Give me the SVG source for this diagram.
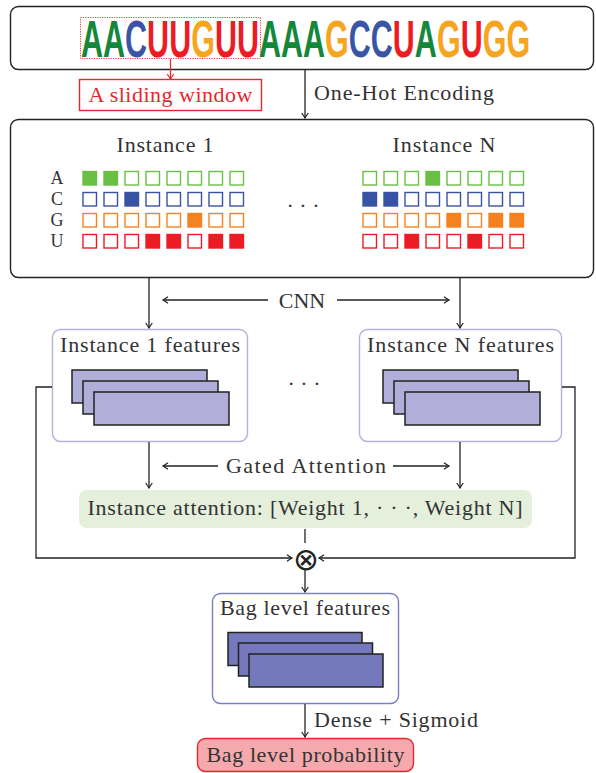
<svg xmlns="http://www.w3.org/2000/svg" width="596" height="773" viewBox="0 0 596 773">
<style>
.t{font-family:"Liberation Serif","Times New Roman",serif;font-size:22px;fill:#333}
.tr{font-family:"Liberation Serif","Times New Roman",serif;font-size:22px;fill:#e8262d}
.lbl{font-family:"Liberation Serif","Times New Roman",serif;font-size:18px;fill:#333}
.seq{font-family:"Liberation Sans",Arial,sans-serif;font-weight:bold;font-size:51px}
.sA{fill:#14873a}.sC{fill:#3a55a6}.sG{fill:#f7a51e}.sU{fill:#ed1c24}
.box{fill:#fff;stroke:#222;stroke-width:1.4}
.ln{fill:none;stroke:#222;stroke-width:1.3}
.ga{stroke:#6abf45;fill:#fff;stroke-width:1.4}.gA{fill:#6abf45;stroke:#6abf45;stroke-width:1.4}
.ca{stroke:#3953a4;fill:#fff;stroke-width:1.4}.cA{fill:#3953a4;stroke:#3953a4;stroke-width:1.4}
.oa{stroke:#f58220;fill:#fff;stroke-width:1.4}.oA{fill:#f58220;stroke:#f58220;stroke-width:1.4}
.ra{stroke:#ed1c24;fill:#fff;stroke-width:1.4}.rA{fill:#ed1c24;stroke:#ed1c24;stroke-width:1.4}
.fl{fill:#b1afd9;stroke:#222;stroke-width:1.5}
.fb{fill:#7479bb;stroke:#222;stroke-width:1.5}
</style>
<defs>
<marker id="arr" viewBox="-6 -4 7 8" refX="0" refY="0" markerWidth="7" markerHeight="8" orient="auto-start-reverse" markerUnits="userSpaceOnUse">
<path d="M-5,-3.3 Q-1.5,-0.8 0,0 Q-1.5,0.8 -5,3.3" fill="none" stroke="#222" stroke-width="1.2"/>
</marker>
<marker id="arrR" viewBox="-6 -4 7 8" refX="0" refY="0" markerWidth="7" markerHeight="8" orient="auto" markerUnits="userSpaceOnUse">
<path d="M-5,-3.3 Q-1.5,-0.8 0,0 Q-1.5,0.8 -5,3.3" fill="none" stroke="#e8262d" stroke-width="1.2"/>
</marker>
</defs>

<g id="sequence">
<rect class="box" x="10.5" y="6.5" width="583" height="63" rx="8"/>
<g transform="translate(81,57) scale(0.598,1)">
<text class="seq" x="0" y="0" textLength="751"><tspan class="sA">AA</tspan><tspan class="sC">C</tspan><tspan class="sU">UU</tspan><tspan class="sG">G</tspan><tspan class="sU">UU</tspan><tspan class="sA">AAA</tspan><tspan class="sG">G</tspan><tspan class="sC">CC</tspan><tspan class="sU">U</tspan><tspan class="sA">A</tspan><tspan class="sG">G</tspan><tspan class="sU">U</tspan><tspan class="sG">GG</tspan></text>
</g>
<rect x="80.5" y="17.5" width="180" height="41" fill="none" stroke="#e8262d" stroke-width="0.9" stroke-dasharray="1.2,1.2"/>
</g>

<g id="sliding-window">
<rect x="79.5" y="79.5" width="182" height="31" fill="#fff" stroke="#e8262d" stroke-width="1.4"/>
<text class="tr" x="170.5" y="102" text-anchor="middle" textLength="164">A sliding window</text>
</g>

<g id="one-hot-label">
<text class="t" x="314" y="100" textLength="180">One-Hot Encoding</text>
</g>

<g id="instances">
<rect class="box" x="10.5" y="119.5" width="583" height="158" rx="8"/>
<text class="t" x="165" y="152" text-anchor="middle" textLength="97">Instance 1</text>
<text class="t" x="444" y="152" text-anchor="middle" textLength="103">Instance N</text>
<text class="lbl" x="57" y="184" text-anchor="middle">A</text>
<text class="lbl" x="57" y="205" text-anchor="middle">C</text>
<text class="lbl" x="57" y="226" text-anchor="middle">G</text>
<text class="lbl" x="57" y="247" text-anchor="middle">U</text>
<text class="t" x="303" y="213" text-anchor="middle">· · ·</text>
<g id="grid1">
<rect class="gA" x="83" y="171.5" width="13.5" height="13.5"/><rect class="gA" x="104" y="171.5" width="13.5" height="13.5"/><rect class="ga" x="125" y="171.5" width="13.5" height="13.5"/><rect class="ga" x="146" y="171.5" width="13.5" height="13.5"/><rect class="ga" x="167" y="171.5" width="13.5" height="13.5"/><rect class="ga" x="188" y="171.5" width="13.5" height="13.5"/><rect class="ga" x="209" y="171.5" width="13.5" height="13.5"/><rect class="ga" x="230" y="171.5" width="13.5" height="13.5"/>
<rect class="ca" x="83" y="192.5" width="13.5" height="13.5"/><rect class="ca" x="104" y="192.5" width="13.5" height="13.5"/><rect class="cA" x="125" y="192.5" width="13.5" height="13.5"/><rect class="ca" x="146" y="192.5" width="13.5" height="13.5"/><rect class="ca" x="167" y="192.5" width="13.5" height="13.5"/><rect class="ca" x="188" y="192.5" width="13.5" height="13.5"/><rect class="ca" x="209" y="192.5" width="13.5" height="13.5"/><rect class="ca" x="230" y="192.5" width="13.5" height="13.5"/>
<rect class="oa" x="83" y="213.5" width="13.5" height="13.5"/><rect class="oa" x="104" y="213.5" width="13.5" height="13.5"/><rect class="oa" x="125" y="213.5" width="13.5" height="13.5"/><rect class="oa" x="146" y="213.5" width="13.5" height="13.5"/><rect class="oa" x="167" y="213.5" width="13.5" height="13.5"/><rect class="oA" x="188" y="213.5" width="13.5" height="13.5"/><rect class="oa" x="209" y="213.5" width="13.5" height="13.5"/><rect class="oa" x="230" y="213.5" width="13.5" height="13.5"/>
<rect class="ra" x="83" y="234.5" width="13.5" height="13.5"/><rect class="ra" x="104" y="234.5" width="13.5" height="13.5"/><rect class="ra" x="125" y="234.5" width="13.5" height="13.5"/><rect class="rA" x="146" y="234.5" width="13.5" height="13.5"/><rect class="rA" x="167" y="234.5" width="13.5" height="13.5"/><rect class="ra" x="188" y="234.5" width="13.5" height="13.5"/><rect class="rA" x="209" y="234.5" width="13.5" height="13.5"/><rect class="rA" x="230" y="234.5" width="13.5" height="13.5"/>
</g>
<g id="gridN">
<rect class="ga" x="363" y="171.5" width="13.5" height="13.5"/><rect class="ga" x="384" y="171.5" width="13.5" height="13.5"/><rect class="ga" x="405" y="171.5" width="13.5" height="13.5"/><rect class="gA" x="426" y="171.5" width="13.5" height="13.5"/><rect class="ga" x="447" y="171.5" width="13.5" height="13.5"/><rect class="ga" x="468" y="171.5" width="13.5" height="13.5"/><rect class="ga" x="489" y="171.5" width="13.5" height="13.5"/><rect class="ga" x="510" y="171.5" width="13.5" height="13.5"/>
<rect class="cA" x="363" y="192.5" width="13.5" height="13.5"/><rect class="cA" x="384" y="192.5" width="13.5" height="13.5"/><rect class="ca" x="405" y="192.5" width="13.5" height="13.5"/><rect class="ca" x="426" y="192.5" width="13.5" height="13.5"/><rect class="ca" x="447" y="192.5" width="13.5" height="13.5"/><rect class="ca" x="468" y="192.5" width="13.5" height="13.5"/><rect class="ca" x="489" y="192.5" width="13.5" height="13.5"/><rect class="ca" x="510" y="192.5" width="13.5" height="13.5"/>
<rect class="oa" x="363" y="213.5" width="13.5" height="13.5"/><rect class="oa" x="384" y="213.5" width="13.5" height="13.5"/><rect class="oa" x="405" y="213.5" width="13.5" height="13.5"/><rect class="oa" x="426" y="213.5" width="13.5" height="13.5"/><rect class="oA" x="447" y="213.5" width="13.5" height="13.5"/><rect class="oa" x="468" y="213.5" width="13.5" height="13.5"/><rect class="oA" x="489" y="213.5" width="13.5" height="13.5"/><rect class="oA" x="510" y="213.5" width="13.5" height="13.5"/>
<rect class="ra" x="363" y="234.5" width="13.5" height="13.5"/><rect class="ra" x="384" y="234.5" width="13.5" height="13.5"/><rect class="rA" x="405" y="234.5" width="13.5" height="13.5"/><rect class="ra" x="426" y="234.5" width="13.5" height="13.5"/><rect class="ra" x="447" y="234.5" width="13.5" height="13.5"/><rect class="rA" x="468" y="234.5" width="13.5" height="13.5"/><rect class="ra" x="489" y="234.5" width="13.5" height="13.5"/><rect class="ra" x="510" y="234.5" width="13.5" height="13.5"/>
</g>
</g>

<g id="cnn-label"><text class="t" x="302" y="308" text-anchor="middle">CNN</text></g>

<g id="features1">
<rect x="52.5" y="329.5" width="195" height="112" rx="8" fill="#fff" stroke="#b4b1dc" stroke-width="1.4"/>
<text class="t" x="150" y="352" text-anchor="middle" textLength="180">Instance 1 features</text>
<rect class="fl" x="72" y="370" width="135" height="33"/>
<rect class="fl" x="83" y="381" width="135" height="33"/>
<rect class="fl" x="94" y="392" width="135" height="33"/>
</g>
<g id="ellipsis-mid"><text class="t" x="304" y="391" text-anchor="middle">· · ·</text></g>
<g id="featuresN">
<rect x="359.5" y="329.5" width="202" height="112" rx="8" fill="#fff" stroke="#b4b1dc" stroke-width="1.4"/>
<text class="t" x="460.5" y="352" text-anchor="middle" textLength="187">Instance N features</text>
<rect class="fl" x="383" y="370" width="135" height="33"/>
<rect class="fl" x="394" y="381" width="135" height="33"/>
<rect class="fl" x="405" y="392" width="135" height="33"/>
</g>

<g id="gated-label"><text class="t" x="306" y="473" text-anchor="middle" textLength="160">Gated Attention</text></g>

<g id="attention">
<rect x="79" y="490" width="453" height="38" rx="8" fill="#e4efdc"/>
<text class="t" x="305" y="515" text-anchor="middle" textLength="435">Instance attention: [Weight 1, · · ·, Weight N]</text>
</g>

<g id="otimes"><text x="305.5" y="570" text-anchor="middle" style="font-family:'DejaVu Sans',sans-serif;font-size:31px;font-weight:200;fill:#222">⊗</text></g>

<g id="bag-features">
<rect x="212.5" y="593.5" width="186" height="110" rx="8" fill="#fff" stroke="#7b7fc5" stroke-width="1.4"/>
<text class="t" x="305" y="615" text-anchor="middle" textLength="170">Bag level features</text>
<rect class="fb" x="228" y="632.5" width="134" height="33"/>
<rect class="fb" x="238.5" y="643" width="134" height="33"/>
<rect class="fb" x="249" y="654" width="134" height="33"/>
</g>

<g id="dense-label"><text class="t" x="314" y="727" textLength="164">Dense + Sigmoid</text></g>

<g id="bag-probability">
<rect x="197.5" y="738.5" width="216" height="33" rx="8" fill="#f5a9ad" stroke="#e8262d" stroke-width="1.4"/>
<text class="t" x="305.5" y="762" text-anchor="middle" textLength="198">Bag level probability</text>
</g>

<g id="connectors">
<line x1="170.5" y1="59" x2="170.5" y2="79" fill="none" stroke="#e8262d" stroke-width="1.2" marker-end="url(#arrR)"/>
<line class="ln" x1="305" y1="70" x2="305" y2="118" marker-end="url(#arr)"/>
<line class="ln" x1="149" y1="278" x2="149" y2="328" marker-end="url(#arr)"/>
<line class="ln" x1="460" y1="278" x2="460" y2="328" marker-end="url(#arr)"/>
<line class="ln" x1="163" y1="300" x2="268" y2="300" marker-start="url(#arr)"/>
<line class="ln" x1="337" y1="300" x2="449" y2="300" marker-end="url(#arr)"/>
<line class="ln" x1="149" y1="442" x2="149" y2="488" marker-end="url(#arr)"/>
<line class="ln" x1="460" y1="442" x2="460" y2="488" marker-end="url(#arr)"/>
<line class="ln" x1="163" y1="466" x2="218" y2="466" marker-start="url(#arr)"/>
<line class="ln" x1="393" y1="466" x2="449" y2="466" marker-end="url(#arr)"/>
<line class="ln" x1="305" y1="529" x2="305" y2="543"/>
<path class="ln" d="M52,387 H36 V558 H292" marker-end="url(#arr)"/>
<path class="ln" d="M562,387 H575 V558 H319" marker-end="url(#arr)"/>
<line class="ln" x1="305" y1="570" x2="305" y2="592" marker-end="url(#arr)"/>
<line class="ln" x1="305" y1="704" x2="305" y2="737" marker-end="url(#arr)"/>
</g>
</svg>
